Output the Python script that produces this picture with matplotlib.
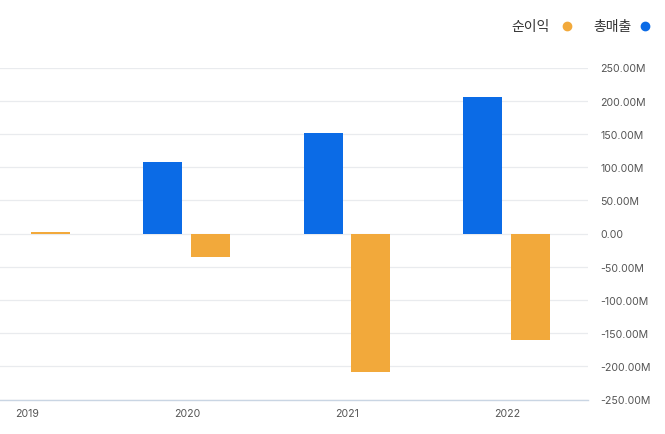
import numpy as np
import matplotlib.pyplot as plt
from matplotlib.ticker import FuncFormatter

plt.rcParams['font.family'] = ['Inter', 'Noto Sans CJK KR', 'DejaVu Sans']

# --------------------------------------------------
# Data (values in millions)
# --------------------------------------------------

years = ["2019", "2020", "2021", "2022"]
revenue = [0.0, 107.0, 152.0, 205.0]       # 총매출
net_income = [2.5, -36.0, -208.0, -160.0]  # 순이익

rev_label = "총매출"
ni_label = "순이익"

blue = "#0b6be6"
orange = "#f2a93b"


def fmt(v, pos):
    if abs(v) < 1e-9:
        return "0.00"
    return f"{v:.2f}M"


fig = plt.figure(figsize=(6.65, 4.35), dpi=100)
ax = fig.add_axes([0.0, 34.5 / 435, 588 / 665, (400 - 68) / 435])

x = np.arange(len(years))
w = 39 / 160
off = 24 / 160

ax.bar(x - off, revenue, width=w, color=blue, zorder=3)
ax.bar(x + off, net_income, width=w, color=orange, zorder=3)

ax.set_xlim(-27 / 160, 561 / 160)
ax.set_ylim(-250, 250)
ax.set_yticks(np.arange(-250, 251, 50))
ax.yaxis.set_major_formatter(FuncFormatter(fmt))
ax.yaxis.tick_right()
ax.tick_params(axis="y", length=0, pad=9, labelsize=7.6, labelcolor="#555555")
ax.tick_params(axis="x", length=0, pad=6, labelsize=7.6, labelcolor="#555555")
ax.set_xticks(x)
ax.set_xticklabels(years)

for lab in ax.get_yticklabels():
    lab.set_horizontalalignment("left")

ax.grid(axis="y", color="#e9ebee", linewidth=0.9, zorder=0)
for s in ["top", "left", "right"]:
    ax.spines[s].set_visible(False)
ax.spines["bottom"].set_color("#c9d5e3")
ax.spines["bottom"].set_linewidth(1.0)

# --------------------------------------------------
# Legend (top right)
# --------------------------------------------------

fig.text(550 / 665, 1 - 27 / 435, ni_label, ha="right", va="center",
         fontsize=10, color="#333333")
fig.text(632 / 665, 1 - 27 / 435, rev_label, ha="right", va="center",
         fontsize=10, color="#333333")
fig.lines.append(plt.Line2D([567 / 665], [1 - 27 / 435], marker="o",
                            markersize=6, color=orange, transform=fig.transFigure))
fig.lines.append(plt.Line2D([645 / 665], [1 - 27 / 435], marker="o",
                            markersize=6, color=blue, transform=fig.transFigure))

fig.savefig("out.png", dpi=100)
